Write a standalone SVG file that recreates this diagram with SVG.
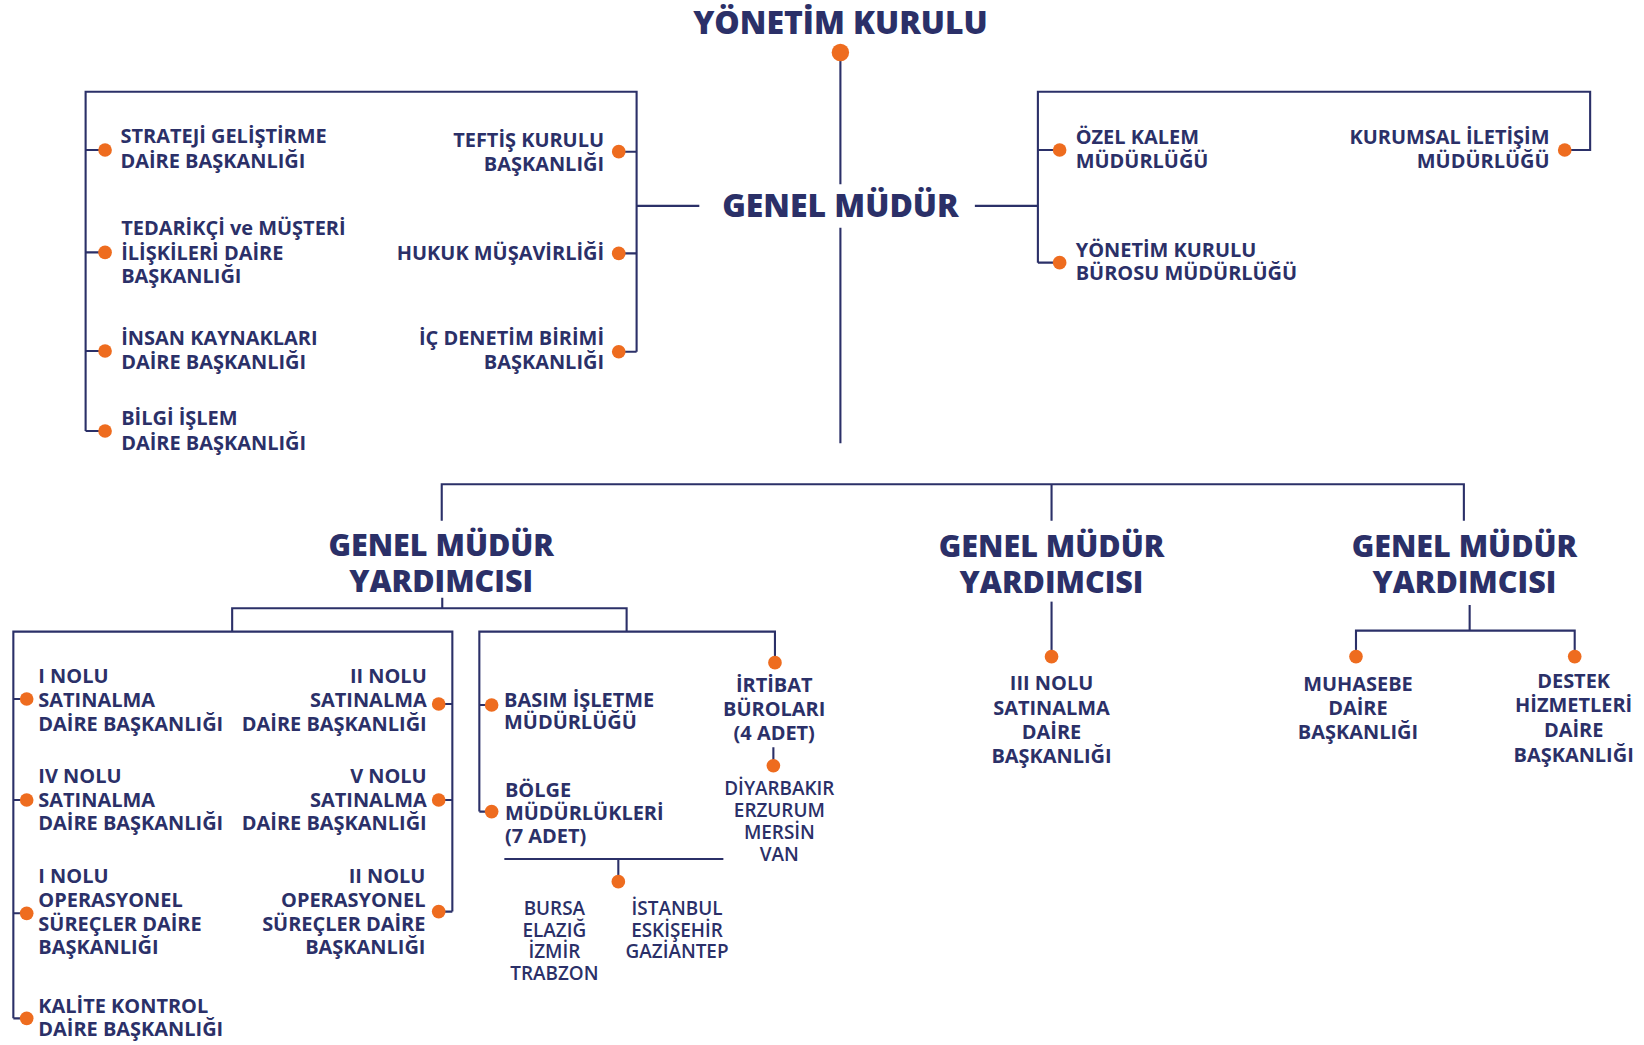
<svg xmlns="http://www.w3.org/2000/svg" width="1644" height="1045" viewBox="0 0 1644 1045">
<style>
.l{fill:none;stroke:#2b3068;stroke-width:2}
.d{fill:#ee6c1f}
.t{font-family:"Open Sans","Noto Sans",sans-serif;font-weight:700;font-size:19px;fill:#2b3068}
.h{font-size:29px;font-weight:800}
.big{font-size:30.4px}
.c{font-weight:600;font-size:18px}
.e{text-anchor:end}
.m{text-anchor:middle}
</style>
<rect width="1644" height="1045" fill="#ffffff"/>
<g transform="scale(1.0505)">
<g id="connectors" class="l">
<path d="M800 50V175.5M800 216.7V422"/>
<path d="M606 196H665.7M928 196H988"/>
<path d="M81.5 410.3V87.3H606V334.8"/>
<path d="M81.5 142.8H100M81.5 240.2H100M81.5 334.1H100M81.5 410.3H100M606 144.4H589M606 241.2H589M606 334.8H589"/>
<path d="M988 250V87.3H1513.7V142.8H1489.5M988 142.8H1008.7M988 250H1008.7"/>
<path d="M420.5 495.6V461H1393.5V495.6M1001 461V495.6"/>
<path d="M421 569V579M221 601.3V579H596.5V601.3"/>
<path d="M12.7 969.4V601.3H430.6V867.8"/>
<path d="M12.7 665.4H25.4M12.7 761.5H25.4M12.7 869.4H25.4M12.7 969.4H25.4M430.6 670.2H417.6M430.6 761.5H417.6M430.6 867.8H417.6"/>
<path d="M456.3 772.6V601.3H737.7V630.8M456.3 671.1H468M456.3 772.6H468"/>
<path d="M736.2 711.4V728.9M480.1 817.7H688.6M588.6 817.7V839.3"/>
<path d="M1001 572.7V625.1"/>
<path d="M1399 576V600.3M1290.8 625V600.3H1499V625"/>
</g>
<g id="yonetim-kurulu">
<text class="t h big m" x="800" y="32.7">YÖNETİM KURULU</text>
<circle class="d" cx="800" cy="50" r="8.3"/>
</g>
<g id="genel-mudur">
<text class="t h big m" x="800" y="206.9">GENEL MÜDÜR</text>
</g>
<g id="strateji">
<circle class="d" cx="100" cy="142.8" r="6.5"/>
<text class="t" x="114.7" y="136.4">STRATEJİ GELİŞTİRME<tspan x="114.7" y="160.2">DAİRE BAŞKANLIĞI</tspan></text>
</g>
<g id="tedarikci">
<circle class="d" cx="100" cy="240.2" r="6.5"/>
<text class="t" x="115.4" y="223.7">TEDARİKÇİ ve MÜŞTERİ<tspan x="115.4" y="247.5">İLİŞKİLERİ DAİRE</tspan><tspan x="115.4" y="269.7">BAŞKANLIĞI</tspan></text>
</g>
<g id="insan-kaynaklari">
<circle class="d" cx="100" cy="334.1" r="6.5"/>
<text class="t" x="115.4" y="328.4">İNSAN KAYNAKLARI<tspan x="115.4" y="351.3">DAİRE BAŞKANLIĞI</tspan></text>
</g>
<g id="bilgi-islem">
<circle class="d" cx="100" cy="410.3" r="6.5"/>
<text class="t" x="115.4" y="404.6">BİLGİ İŞLEM<tspan x="115.4" y="428.5">DAİRE BAŞKANLIĞI</tspan></text>
</g>
<g id="teftis">
<circle class="d" cx="589" cy="144.4" r="6.5"/>
<text class="t e" x="575" y="139.6">TEFTİŞ KURULU<tspan x="575" y="162.5">BAŞKANLIĞI</tspan></text>
</g>
<g id="hukuk">
<circle class="d" cx="589" cy="241.2" r="6.5"/>
<text class="t e" x="575" y="247.5">HUKUK MÜŞAVİRLİĞİ</text>
</g>
<g id="ic-denetim">
<circle class="d" cx="589" cy="334.8" r="6.5"/>
<text class="t e" x="575" y="328.4">İÇ DENETİM BİRİMİ<tspan x="575" y="351.3">BAŞKANLIĞI</tspan></text>
</g>
<g id="ozel-kalem">
<circle class="d" cx="1008.7" cy="142.8" r="6.5"/>
<text class="t" x="1024" y="137">ÖZEL KALEM<tspan x="1024" y="160.2">MÜDÜRLÜĞÜ</tspan></text>
</g>
<g id="yk-burosu">
<circle class="d" cx="1008.7" cy="250" r="6.5"/>
<text class="t" x="1024" y="244.3">YÖNETİM KURULU<tspan x="1024" y="266.5">BÜROSU MÜDÜRLÜĞÜ</tspan></text>
</g>
<g id="kurumsal-iletisim">
<circle class="d" cx="1489.5" cy="142.8" r="6.5"/>
<text class="t e" x="1475" y="137">KURUMSAL İLETİŞİM<tspan x="1475" y="160.2">MÜDÜRLÜĞÜ</tspan></text>
</g>
<g id="gmy-1">
<text class="t h m" x="420" y="529.3">GENEL MÜDÜR<tspan x="420" y="563.9">YARDIMCISI</tspan></text>
</g>
<g id="gmy-2">
<text class="t h m" x="1001" y="530.5">GENEL MÜDÜR<tspan x="1001" y="564.8">YARDIMCISI</tspan></text>
</g>
<g id="gmy-3">
<text class="t h m" x="1394" y="530.5">GENEL MÜDÜR<tspan x="1394" y="564.8">YARDIMCISI</tspan></text>
</g>
<g id="i-satinalma">
<circle class="d" cx="25.4" cy="665.4" r="6.5"/>
<text class="t" x="36.5" y="650.5">I NOLU<tspan x="36.5" y="672.7">SATINALMA</tspan><tspan x="36.5" y="695.5">DAİRE BAŞKANLIĞI</tspan></text>
</g>
<g id="iv-satinalma">
<circle class="d" cx="25.4" cy="761.5" r="6.5"/>
<text class="t" x="36.5" y="745">IV NOLU<tspan x="36.5" y="767.9">SATINALMA</tspan><tspan x="36.5" y="790.1">DAİRE BAŞKANLIĞI</tspan></text>
</g>
<g id="i-operasyonel">
<circle class="d" cx="25.4" cy="869.4" r="6.5"/>
<text class="t" x="36.5" y="840.9">I NOLU<tspan x="36.5" y="863.7">OPERASYONEL</tspan><tspan x="36.5" y="885.9">SÜREÇLER DAİRE</tspan><tspan x="36.5" y="908.1">BAŞKANLIĞI</tspan></text>
</g>
<g id="kalite-kontrol">
<circle class="d" cx="25.4" cy="969.4" r="6.5"/>
<text class="t" x="36.5" y="964">KALİTE KONTROL<tspan x="36.5" y="986.2">DAİRE BAŞKANLIĞI</tspan></text>
</g>
<g id="ii-satinalma">
<circle class="d" cx="417.6" cy="670.2" r="6.5"/>
<text class="t e" x="406.2" y="650.5">II NOLU<tspan x="406.2" y="672.7">SATINALMA</tspan><tspan x="406.2" y="695.5">DAİRE BAŞKANLIĞI</tspan></text>
</g>
<g id="v-satinalma">
<circle class="d" cx="417.6" cy="761.5" r="6.5"/>
<text class="t e" x="406.2" y="745">V NOLU<tspan x="406.2" y="767.9">SATINALMA</tspan><tspan x="406.2" y="790.1">DAİRE BAŞKANLIĞI</tspan></text>
</g>
<g id="ii-operasyonel">
<circle class="d" cx="417.6" cy="867.8" r="6.5"/>
<text class="t e" x="405" y="840.9">II NOLU<tspan x="405" y="863.7">OPERASYONEL</tspan><tspan x="405" y="885.9">SÜREÇLER DAİRE</tspan><tspan x="405" y="908.1">BAŞKANLIĞI</tspan></text>
</g>
<g id="basim-isletme">
<circle class="d" cx="468" cy="671.1" r="6.5"/>
<text class="t" x="479.8" y="672.7">BASIM İŞLETME<tspan x="479.8" y="694.3">MÜDÜRLÜĞÜ</tspan></text>
</g>
<g id="bolge">
<circle class="d" cx="468" cy="772.6" r="6.5"/>
<text class="t" x="480.7" y="758.4">BÖLGE<tspan x="480.7" y="780.6">MÜDÜRLÜKLERİ</tspan><tspan x="480.7" y="802.8">(7 ADET)</tspan></text>
</g>
<g id="bolge-iller">
<circle class="d" cx="588.6" cy="839.3" r="6.5"/>
<text class="t c m" x="527.7" y="871">BURSA<tspan x="527.7" y="891.6">ELAZIĞ</tspan><tspan x="527.7" y="912.2">İZMİR</tspan><tspan x="527.7" y="932.9">TRABZON</tspan></text>
<text class="t c m" x="644.5" y="871">İSTANBUL<tspan x="644.5" y="891.6">ESKİŞEHİR</tspan><tspan x="644.5" y="912.2">GAZİANTEP</tspan></text>
</g>
<g id="irtibat">
<circle class="d" cx="737.7" cy="630.8" r="6.5"/>
<text class="t m" x="737" y="658.4">İRTİBAT<tspan x="737" y="681.3">BÜROLARI</tspan><tspan x="737" y="704.4">(4 ADET)</tspan></text>
</g>
<g id="irtibat-iller">
<circle class="d" cx="736.2" cy="728.9" r="6.5"/>
<text class="t c m" x="741.9" y="756.8">DİYARBAKIR<tspan x="741.9" y="777.4">ERZURUM</tspan><tspan x="741.9" y="798.7">MERSİN</tspan><tspan x="741.9" y="819.3">VAN</tspan></text>
</g>
<g id="iii-satinalma">
<circle class="d" cx="1001" cy="625.1" r="6.5"/>
<text class="t m" x="1001" y="656.8">III NOLU<tspan x="1001" y="680.6">SATINALMA</tspan><tspan x="1001" y="703.8">DAİRE</tspan><tspan x="1001" y="726.6">BAŞKANLIĞI</tspan></text>
</g>
<g id="muhasebe">
<circle class="d" cx="1290.8" cy="625" r="6.5"/>
<text class="t m" x="1292.7" y="657.8">MUHASEBE<tspan x="1292.7" y="680.6">DAİRE</tspan><tspan x="1292.7" y="703.8">BAŞKANLIĞI</tspan></text>
</g>
<g id="destek-hizmetleri">
<circle class="d" cx="1499" cy="625" r="6.5"/>
<text class="t m" x="1498" y="655.3">DESTEK<tspan x="1498" y="678">HİZMETLERİ</tspan><tspan x="1498" y="701.3">DAİRE</tspan><tspan x="1498" y="725">BAŞKANLIĞI</tspan></text>
</g>
</g>
</svg>
